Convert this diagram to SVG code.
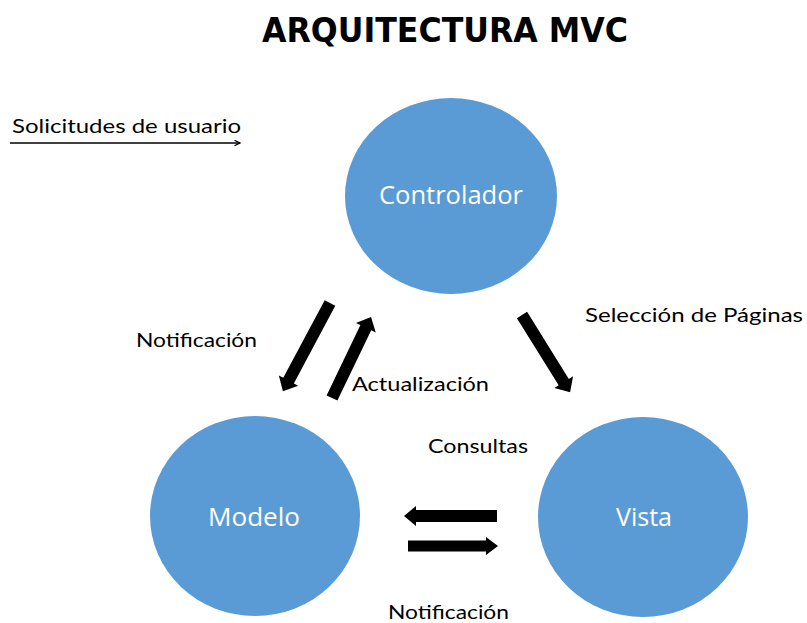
<svg xmlns="http://www.w3.org/2000/svg" width="807" height="623" viewBox="0 0 807 623">
<defs>
<style>
.node{fill:#5B9BD5;}
.ntext{fill:#fff;font-family:"Open Sans","Noto Sans",sans-serif;font-size:25px;text-anchor:middle;}
.lbl{fill:#000;font-family:Lato,"Noto Sans",sans-serif;font-size:19px;}
.title{fill:#000;font-family:"DejaVu Sans",Verdana,sans-serif;font-weight:bold;font-size:34px;}
.blk{fill:#000;}
</style>
<marker id="ah" viewBox="0 0 10 10" refX="9" refY="5" markerWidth="7" markerHeight="7" orient="auto" markerUnits="userSpaceOnUse">
<path d="M1,1 L9,5 L1,9" fill="none" stroke="#000" stroke-width="1.6"/>
</marker>
</defs>
<rect width="807" height="623" fill="#fff"/>
<text class="title" x="262" y="42" textLength="366" lengthAdjust="spacingAndGlyphs">ARQUITECTURA MVC</text>

<g id="connectors">
<line x1="10" y1="143" x2="240" y2="143" stroke="#000" stroke-width="1.3" marker-end="url(#ah)"/>
<polygon class="blk" transform="translate(330,303) rotate(118.1)" points="0,-6 88,-6 88,-11 100,0 88,11 88,6 0,6"/>
<polygon class="blk" transform="translate(332,398) rotate(-64.3)" points="0,-6 78,-6 78,-11 90,0 78,11 78,6 0,6"/>
<polygon class="blk" transform="translate(522,315) rotate(58.1)" points="0,-6 79,-6 79,-11 91,0 79,11 79,6 0,6"/>
<polygon class="blk" transform="translate(497,516) rotate(180)" points="0,-6 81,-6 81,-10 93,0 81,10 81,6 0,6"/>
<polygon class="blk" transform="translate(408,546)" points="0,-5.5 78,-5.5 78,-9 90,0 78,9 78,5.5 0,5.5"/>
</g>

<g id="labels">
<text class="lbl" x="12" y="133" textLength="229" lengthAdjust="spacingAndGlyphs">Solicitudes de usuario</text>
<text class="lbl" x="136" y="347" textLength="121" lengthAdjust="spacingAndGlyphs">Notificación</text>
<text class="lbl" x="352" y="391" textLength="137" lengthAdjust="spacingAndGlyphs">Actualización</text>
<text class="lbl" x="585" y="322" textLength="218" lengthAdjust="spacingAndGlyphs">Selección de Páginas</text>
<text class="lbl" x="428" y="453" textLength="100" lengthAdjust="spacingAndGlyphs">Consultas</text>
<text class="lbl" x="388" y="619" textLength="121" lengthAdjust="spacingAndGlyphs">Notificación</text>
</g>

<g id="controlador">
<ellipse class="node" cx="451" cy="196" rx="106" ry="98"/>
<text class="ntext" x="451" y="204" textLength="144" lengthAdjust="spacingAndGlyphs">Controlador</text>
</g>
<g id="modelo">
<ellipse class="node" cx="255" cy="516" rx="105" ry="100"/>
<text class="ntext" x="254" y="526" textLength="92" lengthAdjust="spacingAndGlyphs">Modelo</text>
</g>
<g id="vista">
<ellipse class="node" cx="643" cy="517" rx="105" ry="100"/>
<text class="ntext" x="644" y="526">Vista</text>
</g>
</svg>
